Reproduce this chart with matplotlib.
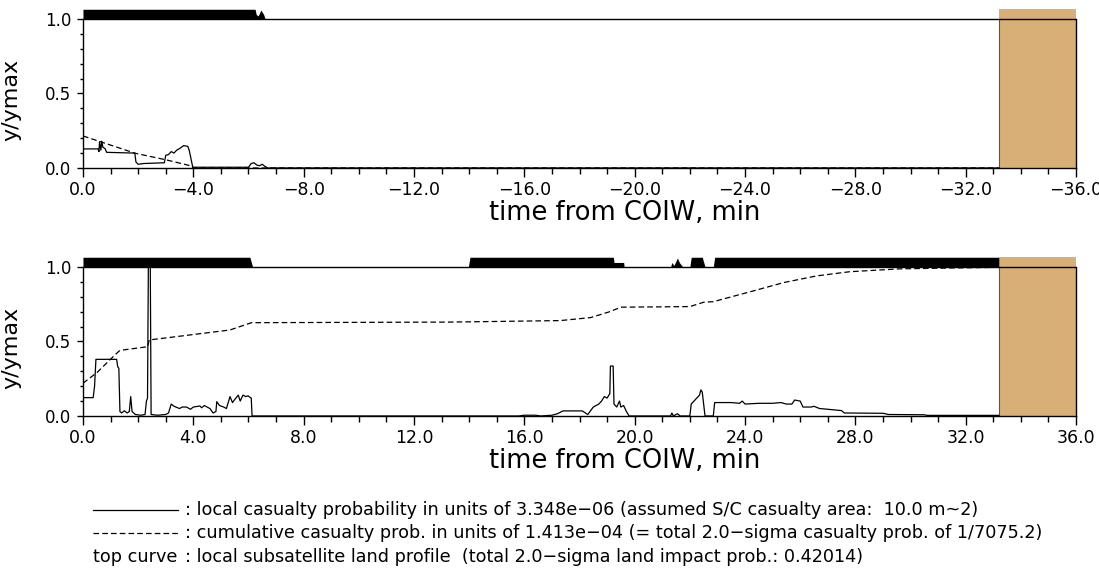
import numpy as np
import matplotlib
matplotlib.use('Agg')
import matplotlib.pyplot as plt
from matplotlib.ticker import MultipleLocator, FuncFormatter
from matplotlib.lines import Line2D

# ---- data (time in min, values as y/ymax) ----

# top panel (time before COIW, negative)
top_local_t = [0.0, -0.55, -0.58, -0.6, -0.65, -0.68, -0.72, -0.8, -0.86, -1.88, -1.92, -2.0,
               -2.2, -2.95, -3.0, -3.1, -3.2, -3.3, -3.4, -3.5, -3.65, -3.8, -3.85, -3.98,
               -6.0, -6.1, -6.2, -6.3, -6.4, -6.5, -6.6, -6.7, -33.2]
top_local_v = [0.128, 0.128, 0.11, 0.175, 0.12, 0.18, 0.14, 0.13, 0.105, 0.10, 0.04, 0.025,
               0.03, 0.035, 0.085, 0.09, 0.11, 0.10, 0.12, 0.13, 0.15, 0.145, 0.12, 0.005,
               0.005, 0.03, 0.035, 0.02, 0.015, 0.025, 0.01, 0.0, 0.0]

top_cum_t = [0.0, -0.62, -1.89, -3.03, -3.94, -4.0, -33.2]
top_cum_v = [0.215, 0.177, 0.099, 0.054, 0.013, 0.0, 0.0]

top_land_t = [0.0, -6.24, -6.28, -6.35, -6.45, -6.55, -6.6, -33.2]
top_land_h = [0.065, 0.065, 0.03, 0.02, 0.06, 0.03, 0.0, 0.0]

# bottom panel (time after COIW)
bot_local_t = [0.0, 0.37, 0.42, 0.47, 1.22, 1.26, 1.3, 1.34, 1.4, 1.5, 1.6, 1.68, 1.73, 1.78,
               1.9, 2.1, 2.25, 2.3, 2.34, 2.37, 2.44, 2.47, 2.7, 3.0, 3.1, 3.2, 3.3, 3.5,
               3.6, 3.75, 3.9, 4.0, 4.24, 4.3, 4.4, 4.5, 4.6, 4.72, 4.82, 4.85, 4.95, 5.1,
               5.2, 5.33, 5.42, 5.5, 5.63, 5.7, 5.75, 5.8, 5.9, 5.98, 6.1, 6.13, 15.8,
               16.0, 16.4, 16.6, 17.0, 17.2, 17.4, 18.1, 18.3, 18.5, 18.7, 18.8, 18.9,
               19.0, 19.1, 19.12, 19.22, 19.25, 19.35, 19.45, 19.5, 19.6, 19.7, 19.8,
               21.3, 21.35, 21.4, 21.55, 21.65, 22.0, 22.05, 22.2, 22.35, 22.4, 22.45,
               22.55, 22.85, 22.9, 23.5, 23.8, 23.9, 24.0, 24.5, 25.0, 25.3, 25.5, 25.7,
               25.8, 26.0, 26.1, 26.4, 26.5, 26.7, 27.0, 27.5, 27.6, 29.0, 29.2, 30.5,
               30.6, 33.2]
bot_local_v = [0.123, 0.123, 0.2, 0.38, 0.38, 0.33, 0.32, 0.03, 0.02, 0.035, 0.02, 0.03,
               0.13, 0.03, 0.01, 0.005, 0.01, 0.1, 0.12, 1.0, 1.0, 0.01, 0.005, 0.01, 0.02,
               0.08, 0.065, 0.05, 0.06, 0.06, 0.045, 0.06, 0.067, 0.055, 0.07, 0.06, 0.05,
               0.02, 0.03, 0.096, 0.07, 0.06, 0.05, 0.13, 0.09, 0.11, 0.14, 0.1, 0.12, 0.14,
               0.13, 0.135, 0.12, 0.0, 0.0,
               0.005, 0.005, 0.0, 0.005, 0.015, 0.034, 0.034, 0.01, 0.06, 0.08, 0.1, 0.13,
               0.12, 0.15, 0.335, 0.335, 0.08, 0.06, 0.1, 0.06, 0.07, 0.03, 0.0,
               0.0, 0.02, 0.0, 0.015, 0.0, 0.0, 0.08, 0.11, 0.14, 0.175, 0.16,
               0.0, 0.0, 0.09, 0.09, 0.085, 0.1, 0.08, 0.085, 0.085, 0.09, 0.08, 0.08,
               0.107, 0.1, 0.06, 0.06, 0.065, 0.05, 0.045, 0.036, 0.02, 0.018, 0.01, 0.008,
               0.004, 0.004]

bot_cum_t = [0.0, 0.5, 1.16, 1.34, 2.35, 2.4, 3.5, 5.33, 6.11, 13.3, 17.3, 18.4, 19.1,
             19.5, 22.0, 22.5, 22.85, 24.2, 25.4, 26.6, 27.8, 29.6, 31.5, 33.1]
bot_cum_v = [0.22, 0.29, 0.41, 0.44, 0.465, 0.51, 0.535, 0.577, 0.626, 0.63, 0.64, 0.66,
             0.70, 0.73, 0.734, 0.763, 0.767, 0.834, 0.895, 0.94, 0.968, 0.987, 0.993, 0.997]

bot_land_t = [0.0, 6.05, 6.15, 13.97, 14.03, 19.23, 19.25, 19.6, 19.62, 21.3, 21.35, 21.42,
              21.5, 21.55, 21.62, 21.7, 21.75, 22.0, 22.05, 22.45, 22.55, 22.85, 22.9, 33.2]
bot_land_h = [0.065, 0.065, 0.0, 0.0, 0.065, 0.065, 0.03, 0.03, 0.0, 0.0, 0.03, 0.01,
              0.04, 0.06, 0.03, 0.01, 0.0, 0.0, 0.065, 0.065, 0.0, 0.0, 0.065, 0.065]

# ocean / end-of-data box
box_start = 33.2
box_end = 36.0

legend_lines = [
    ': local casualty probability in units of 3.348e\u221206 (assumed S/C casualty area:  10.0 m~2)',
    ': cumulative casualty prob. in units of 1.413e\u221204 (= total 2.0\u2212sigma casualty prob. of 1/7075.2)',
    ': local subsatellite land profile  (total 2.0\u2212sigma land impact prob.: 0.42014)',
]

tan = '#d8b077'
ytop = 1.067

fmt = FuncFormatter(lambda v, p: ('%.1f' % v).replace('-', '\u2212'))


def setup(ax, sign):
    ax.set_xlim(0, sign * 36)
    ax.set_ylim(0, ytop)
    ax.xaxis.set_major_locator(MultipleLocator(4))
    ax.xaxis.set_minor_locator(MultipleLocator(1))
    ax.xaxis.set_major_formatter(fmt)
    ax.yaxis.set_major_locator(MultipleLocator(0.5))
    ax.yaxis.set_minor_locator(MultipleLocator(0.1))
    ax.yaxis.set_major_formatter(fmt)
    ax.spines['top'].set_visible(False)
    for s in ['left', 'right']:
        ax.spines[s].set_bounds(0, 1)
    for s in ['left', 'right', 'bottom']:
        ax.spines[s].set_linewidth(1.0)
    ax.tick_params(axis='x', which='major', direction='out', length=6.5, width=1, labelsize=12.5, pad=3)
    ax.tick_params(axis='x', which='minor', direction='out', length=4, width=1)
    ax.tick_params(axis='y', which='major', direction='out', length=4.5, width=1, labelsize=12, pad=4)
    ax.tick_params(axis='y', which='minor', direction='out', length=2, width=1)
    ax.set_ylabel('y/ymax', fontsize=16)
    ax.yaxis.set_label_coords(-0.062, 0.43)
    ax.set_xlabel('time from COIW, min', fontsize=18.5)
    ax.xaxis.set_label_coords(0.546, -0.2)
    # box
    ax.axvspan(sign * box_start, sign * box_end, 0, 1, color=tan, lw=0, zorder=0)
    ax.plot([sign * box_start, sign * box_start], [0, 1], color='#555555', lw=0.8, zorder=1)
    ax.axhline(1.0, color='black', lw=1.0, zorder=3)


fig = plt.figure(figsize=(10.99, 5.71), dpi=100)
ax1 = fig.add_axes([0.0755, 0.7058, 0.9036, 0.2785])
ax2 = fig.add_axes([0.0755, 0.2715, 0.9036, 0.2785])

setup(ax1, -1)
setup(ax2, 1)

dash = (0, (4.5, 2.5))

ax1.fill_between(top_land_t, 1.0, 1.0 + np.array(top_land_h), color='black', lw=0, zorder=2)
ax1.plot(top_local_t, top_local_v, color='black', lw=0.9, zorder=4)
ax1.plot(top_cum_t, top_cum_v, color='black', lw=0.9, ls=dash, zorder=4)

ax2.fill_between(bot_land_t, 1.0, 1.0 + np.array(bot_land_h), color='black', lw=0, zorder=2)
ax2.plot(bot_local_t, bot_local_v, color='black', lw=0.9, zorder=4)
ax2.plot(bot_cum_t, bot_cum_v, color='black', lw=0.9, ls=dash, zorder=4)

# legend text block
ys = [1 - 510 / 571, 1 - 533 / 571, 1 - 557 / 571]
x0, x1 = 93 / 1099, 178 / 1099
fig.add_artist(Line2D([x0, x1], [ys[0], ys[0]], color='black', lw=0.9, transform=fig.transFigure))
fig.add_artist(Line2D([x0, x1], [ys[1], ys[1]], color='black', lw=0.9, ls=dash, transform=fig.transFigure))
fig.text(x0, ys[2], 'top curve', fontsize=12.7, va='center', ha='left')
for y, s in zip(ys, legend_lines):
    fig.text(185 / 1099, y, s, fontsize=12.7, va='center', ha='left')

fig.savefig('out.png', dpi=100)
